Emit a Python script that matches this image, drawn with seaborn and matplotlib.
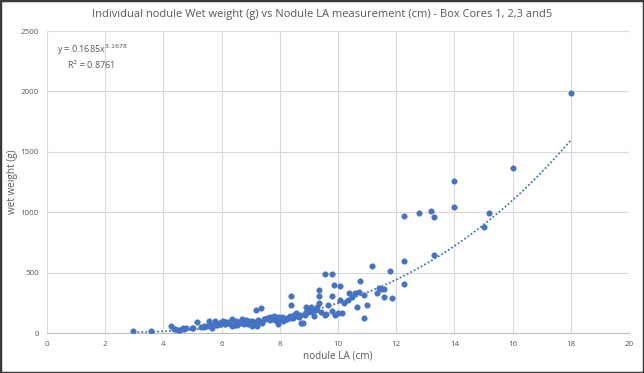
import numpy as np
import pandas as pd
import matplotlib
matplotlib.use("Agg")
import matplotlib.pyplot as plt
import seaborn as sns
from matplotlib.patches import Rectangle

# ---- data ----
nodule_la = [
    2.97, 3.57, 4.27, 4.37, 4.58, 4.68, 4.79, 4.98, 5.17, 5.28, 5.38, 5.50, 5.57, 5.66,
    5.78, 5.85, 5.99, 6.06, 6.10, 6.20, 6.37, 6.37, 6.52, 6.62, 6.69, 6.76, 6.83, 6.90,
    6.97, 7.04, 7.11, 7.18, 7.22, 7.28, 7.36, 7.39, 7.60, 7.67, 7.79, 7.84, 7.93, 7.95,
    8.07, 8.12, 8.21, 8.31, 8.38, 8.38, 8.38, 8.49, 8.55, 8.66, 8.73, 8.80, 8.87, 8.91,
    8.97, 9.08, 9.15, 9.19, 9.29, 9.36, 9.36, 9.36, 9.43, 9.57, 9.57, 9.60, 9.64, 9.78,
    9.78, 9.81, 9.85, 9.89, 9.99, 10.06, 10.06, 10.13, 10.20, 10.34, 10.37, 10.48, 10.60,
    10.67, 10.71, 10.77, 10.88, 10.91, 10.98, 11.16, 11.33, 11.40, 11.47, 11.57, 11.57,
    11.78, 11.86, 12.28, 12.28, 12.28, 12.80, 13.19, 13.30, 13.30, 14.00, 14.00, 15.00,
    15.20, 16.00, 18.00,
    # dense cluster extras
    4.40, 4.50, 4.70, 5.00, 5.40, 5.60, 5.70, 5.90, 6.00, 6.15, 6.30, 6.45, 6.60, 6.70,
    6.75, 6.85, 6.95, 7.00, 7.10, 7.25, 7.35, 7.50, 7.55, 7.70, 7.75, 7.85, 7.90, 8.00,
    8.05, 8.15, 8.25, 8.35, 8.45, 8.60, 8.70, 8.90, 9.00, 9.10, 9.25, 6.50, 6.80, 7.05,
    7.65, 8.10, 5.80, 6.25, 7.45, 8.20,
]
wet_weight = [
    19, 19, 58, 36, 25, 39, 41, 41, 91, 52, 55, 58, 99, 44,
    102, 66, 91, 102, 75, 80, 61, 113, 66, 80, 113, 75, 108, 75,
    94, 58, 75, 191, 58, 102, 204, 86, 119, 108, 141, 108, 130, 75,
    135, 102, 113, 135, 307, 229, 122, 149, 163, 135, 86, 86, 149, 218,
    177, 218, 191, 141, 213, 356, 307, 251, 177, 489, 149, 157, 232, 489,
    307, 185, 398, 149, 163, 390, 273, 169, 246, 273, 329, 301, 329,
    218, 342, 434, 315, 122, 232, 555, 329, 370, 362, 301, 362,
    517, 287, 597, 403, 970, 992, 1006, 961, 644, 1258, 1039, 880,
    995, 1362, 1990,
    30, 28, 32, 45, 50, 62, 70, 78, 85, 88, 95, 70, 90, 98,
    85, 95, 100, 82, 88, 110, 95, 118, 125, 115, 128, 120, 118, 125,
    115, 125, 120, 140, 128, 140, 150, 170, 180, 170, 190, 100, 88, 100,
    130, 110, 72, 92, 112, 120,
]

eq_coef = 0.1685
eq_exp = 3.1678
r_squared = 0.8761

x_ticks = [0, 2, 4, 6, 8, 10, 12, 14, 16, 18, 20]
y_ticks = [0, 500, 1000, 1500, 2000, 2500]

df = pd.DataFrame({"nodule LA (cm)": nodule_la, "wet weight (g)": wet_weight})

sns.set_style("white")
plt.rcParams["font.family"] = ["Open Sans", "DejaVu Sans"]

fig = plt.figure(figsize=(6.44, 3.73), dpi=100)
ax = fig.add_axes([47 / 644, 1 - 333 / 373, (629 - 47) / 644, (333 - 31) / 373])

blue = "#4472C4"
grey_text = "#595959"

sns.scatterplot(data=df, x="nodule LA (cm)", y="wet weight (g)", ax=ax,
                color=blue, s=16, edgecolor=blue, linewidth=0.3, zorder=3)

xs = np.linspace(min(nodule_la), max(nodule_la), 200)
sns.lineplot(x=xs, y=eq_coef * xs ** eq_exp, ax=ax, color=blue,
             linestyle=(0, (1, 1.2)), linewidth=1.3, zorder=2)

ax.set_xlim(0, 20)
ax.set_ylim(0, 2500)
ax.set_xticks(x_ticks)
ax.set_yticks(y_ticks)
ax.grid(True, color="#D9D9D9", linewidth=0.8)
ax.set_axisbelow(True)
for s in ["top", "right", "left"]:
    ax.spines[s].set_visible(False)
ax.spines["bottom"].set_color("#BFBFBF")
ax.spines["bottom"].set_linewidth(0.8)
ax.tick_params(axis="both", length=0, labelsize=5.8, colors=grey_text, pad=6)

ax.set_xlabel("nodule LA (cm)", fontsize=7.2, color=grey_text)
ax.set_ylabel("wet weight (g)", fontsize=7.2, color=grey_text)
ax.xaxis.set_label_coords(0.5, -(350 - 333) / 302)
ax.yaxis.set_label_coords(-(47 - 18) / 582, 0.5)

fig.text(0.5, 1 - 15 / 373,
         "Individual nodule Wet weight (g) vs Nodule LA measurement (cm) - Box Cores 1, 2,3 and5",
         ha="center", va="center", fontsize=8, color=grey_text)

fig.text(57 / 644, 1 - 50 / 373, r"y = 0.1685x$^{3.1678}$", ha="left", va="center",
         fontsize=6.5, color=grey_text)
fig.text(67 / 644, 1 - 65 / 373, r"R$^{2}$ = 0.8761", ha="left", va="center",
         fontsize=6.5, color=grey_text)

fig.patches.append(Rectangle((0, 0), 1, 1, transform=fig.transFigure, fill=False,
                             edgecolor="#3a3a3a", linewidth=2.5))

fig.savefig("out.png", dpi=100)
